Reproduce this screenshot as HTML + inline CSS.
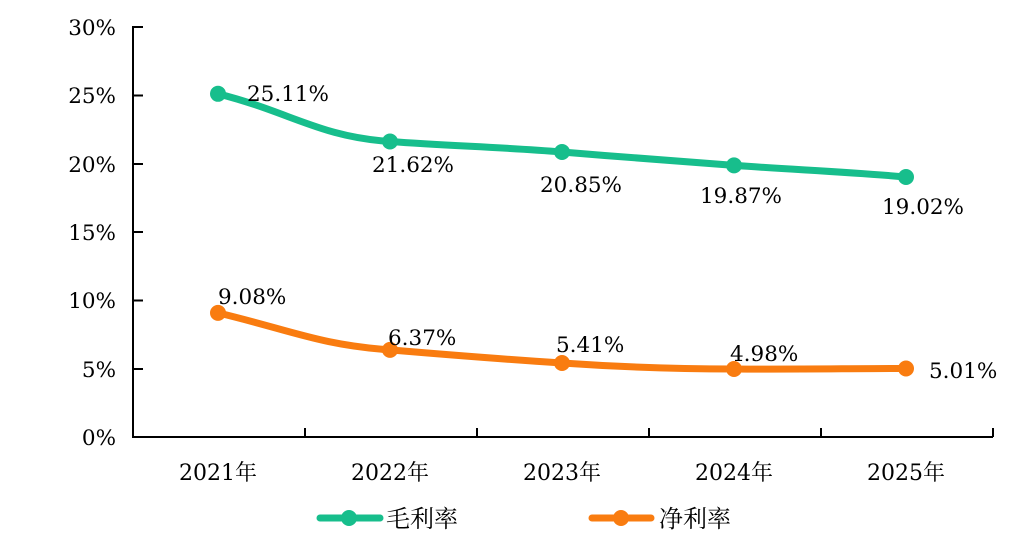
<!DOCTYPE html>
<html><head><meta charset="utf-8"><style>
html,body{margin:0;padding:0;background:#fff;}
svg{display:block;font-family:"DejaVu Serif","Noto Serif CJK SC",serif;}
</style></head><body>
<svg width="1032" height="548" viewBox="0 0 1032 548" xmlns="http://www.w3.org/2000/svg">
<g stroke="#000" stroke-width="2" fill="none">
<line x1="133" y1="26" x2="133" y2="437"/>
<line x1="132" y1="437" x2="993" y2="437"/>
<line x1="133" y1="27" x2="143" y2="27"/>
<line x1="133" y1="95.5" x2="143" y2="95.5"/>
<line x1="133" y1="164" x2="143" y2="164"/>
<line x1="133" y1="232" x2="143" y2="232"/>
<line x1="133" y1="300.5" x2="143" y2="300.5"/>
<line x1="133" y1="369" x2="143" y2="369"/>
<line x1="305" y1="428" x2="305" y2="437"/>
<line x1="477" y1="428" x2="477" y2="437"/>
<line x1="649" y1="428" x2="649" y2="437"/>
<line x1="821" y1="428" x2="821" y2="437"/>
<line x1="993" y1="428" x2="993" y2="437"/>
</g>
<g font-size="21.5" fill="#000" text-anchor="end">
<text x="116" y="35">30%</text>
<text x="116" y="103">25%</text>
<text x="116" y="172">20%</text>
<text x="116" y="240">15%</text>
<text x="116" y="308">10%</text>
<text x="116" y="377">5%</text>
<text x="116" y="445">0%</text>
</g>
<g font-size="22" fill="#000" text-anchor="middle">
<text x="218" y="480">2021年</text>
<text x="390" y="480">2022年</text>
<text x="562" y="480">2023年</text>
<text x="734" y="480">2024年</text>
<text x="906" y="480">2025年</text>
</g>
<path d="M218 93.8 C290 112, 320 137, 390 141.5 C450 146, 500 147, 562 152 C620 157, 680 161, 734 165.4 C800 170, 850 172, 906 177" stroke="#17BE8C" stroke-width="7" fill="none" stroke-linecap="round"/>
<path d="M218 312.9 C290 330, 320 345, 390 349.9 C450 355, 500 359, 562 363 C620 367, 680 369, 734 369 C800 369.5, 850 368.5, 906 368.5" stroke="#F97C10" stroke-width="7" fill="none" stroke-linecap="round"/>
<g fill="#17BE8C">
<circle cx="218" cy="93.8" r="8"/><circle cx="390" cy="141.5" r="8"/><circle cx="562" cy="152" r="8"/><circle cx="734" cy="165.4" r="8"/><circle cx="906" cy="177" r="8"/>
</g>
<g fill="#F97C10">
<circle cx="218" cy="312.9" r="8"/><circle cx="390" cy="349.9" r="8"/><circle cx="562" cy="363" r="8"/><circle cx="734" cy="369" r="8"/><circle cx="906" cy="368.5" r="8"/>
</g>
<g font-size="21.5" fill="#000">
<text x="247" y="101">25.11%</text>
<text x="372" y="172">21.62%</text>
<text x="540" y="192">20.85%</text>
<text x="700" y="203">19.87%</text>
<text x="882" y="214">19.02%</text>
<text x="218" y="304">9.08%</text>
<text x="388" y="345">6.37%</text>
<text x="556" y="352">5.41%</text>
<text x="730" y="361">4.98%</text>
<text x="929" y="378">5.01%</text>
</g>
<line x1="320" y1="518" x2="380" y2="518" stroke="#17BE8C" stroke-width="7" stroke-linecap="round"/>
<circle cx="349" cy="518" r="8" fill="#17BE8C"/>
<text x="386" y="527" font-size="24" fill="#000">毛利率</text>
<line x1="592" y1="518" x2="651" y2="518" stroke="#F97C10" stroke-width="7" stroke-linecap="round"/>
<circle cx="621" cy="518" r="8" fill="#F97C10"/>
<text x="659" y="527" font-size="24" fill="#000">净利率</text>
</svg>
</body></html>
